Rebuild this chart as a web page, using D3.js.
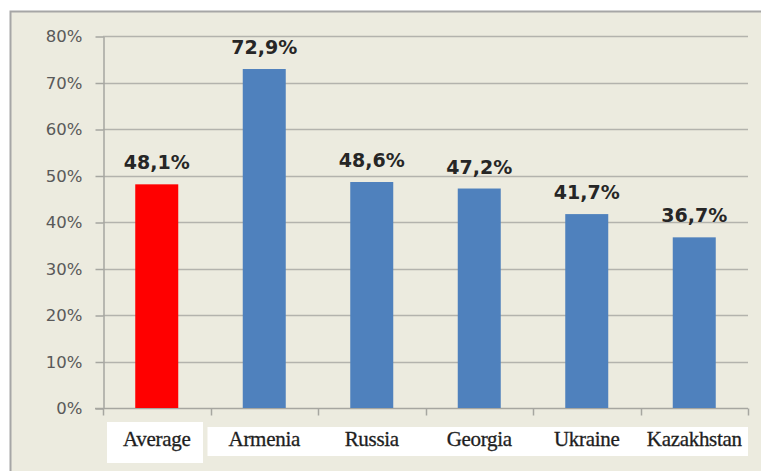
<!DOCTYPE html>
<html>
<head>
<meta charset="utf-8">
<script src="https://cdn.jsdelivr.net/npm/d3@7"></script>
<style>
  body { margin: 0; background: #fff; }
  svg { display: block; }
</style>
</head>
<body>
<svg id="chart" width="761" height="471"></svg>
<script>
// data
var countries = ["Average", "Armenia", "Russia", "Georgia", "Ukraine", "Kazakhstan"];
var shares = [48.1, 72.9, 48.6, 47.2, 41.7, 36.7];
var yTicks = [0, 10, 20, 30, 40, 50, 60, 70, 80];

var svg = d3.select("#chart");
var plotLeft = 103, plotRight = 748, plotTop = 36, plotBottom = 408;

// panel frame
svg.append("rect")
  .attr("x", 10.5).attr("y", 11.5)
  .attr("width", 770).attr("height", 480)
  .style("fill", "#ecebdf")
  .style("stroke", "#a6a6a6")
  .style("stroke-width", 2);

var x = d3.scaleBand().domain(countries).range([plotLeft, plotRight]).paddingInner(0.6).paddingOuter(0.3);
var xb = d3.scaleBand().domain(countries).range([plotLeft, plotRight]);
var y = d3.scaleLinear().domain([0, 80]).range([plotBottom, plotTop]);

// gridlines
svg.append("g").selectAll("line")
  .data(yTicks.filter(function(d) { return d > 0; }))
  .enter().append("line")
  .attr("x1", plotLeft).attr("x2", plotRight)
  .attr("y1", function(d) { return Math.round(y(d)) + 0.5; })
  .attr("y2", function(d) { return Math.round(y(d)) + 0.5; })
  .style("stroke", "#b3b3ad").style("stroke-width", 1.5);

// y axis
var yAxis = svg.append("g")
  .attr("transform", "translate(" + (plotLeft + 0.5) + ",0.5)")
  .call(d3.axisLeft(y).tickValues(yTicks).tickSize(8).tickSizeOuter(0)
    .tickFormat(function(d) { return d + "%"; }));
yAxis.selectAll("line, path").style("stroke", "#a6a6a0").style("stroke-width", 1.5);
yAxis.selectAll("text")
  .attr("x", -21)
  .style("font-family", "'DejaVu Sans', Verdana, sans-serif")
  .style("font-size", "16.5px")
  .style("fill", "#595959");

// x axis line and ticks at category edges
var xg = svg.append("g").attr("transform", "translate(0," + (plotBottom + 0.5) + ")");
xg.append("line").attr("x1", plotLeft - 8).attr("x2", plotRight)
  .style("stroke", "#a6a6a0").style("stroke-width", 1.5);
xg.selectAll(".tk")
  .data(countries.map(function(c) { return xb(c); }).concat([plotRight]))
  .enter().append("line")
  .attr("x1", function(d) { return Math.round(d) + 0.5; })
  .attr("x2", function(d) { return Math.round(d) + 0.5; })
  .attr("y1", 0).attr("y2", 7)
  .style("stroke", "#a6a6a0").style("stroke-width", 1.5);

// bars
svg.append("g").selectAll("rect")
  .data(shares)
  .enter().append("rect")
  .attr("x", function(d, i) { return x(countries[i]); })
  .attr("width", x.bandwidth())
  .attr("y", function(d) { return y(d); })
  .attr("height", function(d) { return plotBottom - y(d); })
  .style("fill", function(d, i) { return i === 0 ? "#ff0000" : "#4f81bd"; });

// value labels
svg.append("g").selectAll("text")
  .data(shares)
  .enter().append("text")
  .attr("x", function(d, i) { return x(countries[i]) + x.bandwidth() / 2; })
  .attr("y", function(d) { return y(d) - 15; })
  .attr("text-anchor", "middle")
  .style("font-family", "'DejaVu Sans', Verdana, sans-serif")
  .style("font-weight", "bold")
  .style("font-size", "19px")
  .style("fill", "#262626")
  .text(function(d) { return String(d).replace(".", ",") + "%"; });

// white boxes behind category labels
svg.append("rect").attr("x", xb("Armenia") - 3).attr("y", 427)
  .attr("width", plotRight - xb("Armenia") + 3).attr("height", 29).style("fill", "#fff");
svg.append("rect").attr("x", 107).attr("y", 422)
  .attr("width", 96).attr("height", 41).style("fill", "#fff");

svg.append("g").selectAll("text")
  .data(countries)
  .enter().append("text")
  .attr("x", function(d) { return xb(d) + xb.bandwidth() / 2; })
  .attr("y", 446)
  .attr("text-anchor", "middle")
  .style("font-family", "'Liberation Serif', 'Times New Roman', serif")
  .style("font-size", "21px")
  .style("letter-spacing", "-0.3px")
  .style("fill", "#1e1e1e")
  .style("stroke", "#1e1e1e")
  .style("stroke-width", 0.3)
  .text(function(d) { return d; });
</script>
</body>
</html>
